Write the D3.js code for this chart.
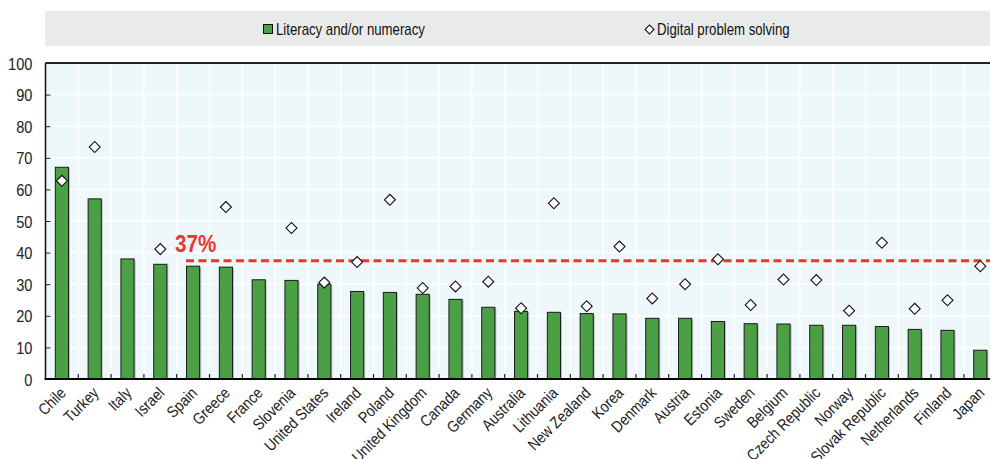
<!DOCTYPE html>
<html><head><meta charset="utf-8">
<script src="https://cdn.jsdelivr.net/npm/d3@7"></script>
<style>
html,body{margin:0;padding:0;background:#fff;}
svg{display:block;font-family:"Liberation Sans",Arial,sans-serif;}
</style></head>
<body><svg id="c" width="990" height="459"></svg>
<script>
const countries = ["Chile","Turkey","Italy","Israel","Spain","Greece","France","Slovenia","United States","Ireland","Poland","United Kingdom","Canada","Germany","Australia","Lithuania","New Zealand","Korea","Denmark","Austria","Estonia","Sweden","Belgium","Czech Republic","Norway","Slovak Republic","Netherlands","Finland","Japan"];
const literacy = [67.0,57.0,38.0,36.3,35.7,35.4,31.4,31.2,30.0,27.7,27.4,26.8,25.2,22.7,21.4,21.1,20.7,20.6,19.2,19.2,18.2,17.5,17.4,17.0,17.0,16.6,15.7,15.4,9.1];
const digital = [62.7,73.4,null,41.1,null,54.4,null,47.8,30.5,37.0,56.7,28.8,29.3,30.8,22.4,55.6,23.0,41.9,25.5,30.0,37.9,23.4,31.5,31.3,21.6,43.1,22.2,24.9,35.7];
const yTicks = [0,10,20,30,40,50,60,70,80,90,100];
const seriesNames = ["Literacy and/or numeracy","Digital problem solving"];
const averageValue = 37.4;
const averageLabel = "37%";

const SX = 0.86; // horizontal condensing to mimic a narrow font
const SXL = 0.825;
const svg = d3.select("#c");
const L = 45.5, R = 996.7, T = 63, B = 379;
const x = d3.scaleBand().domain(countries).range([L, R]).paddingInner(0.6).paddingOuter(0.3);
const y = d3.scaleLinear().domain([0,100]).range([B, T]);
const step = x.step();

// legend band
svg.append("rect").attr("x",45).attr("y",11).attr("width",950).attr("height",35).attr("fill","#e9ebeb");
const lg = svg.append("g");
lg.append("rect").attr("x",263.5).attr("y",24.5).attr("width",9).attr("height",9).attr("fill","#4ba046").attr("stroke","#111").attr("stroke-width",1);
lg.append("text").attr("transform",`translate(276,34.5) scale(${SXL},1)`).attr("font-size",16).attr("fill","#111").text(seriesNames[0]);
lg.append("path").attr("d",d3.symbol(d3.symbolSquare, 40)()).attr("transform","translate(649.5,29.5) rotate(45)").attr("fill","#fff").attr("stroke","#111").attr("stroke-width",1.1);
lg.append("text").attr("transform",`translate(657,34.5) scale(${SXL},1)`).attr("font-size",16).attr("fill","#111").text(seriesNames[1]);

// plot background
svg.append("rect").attr("x",L).attr("y",T).attr("width",R-L).attr("height",B-T).attr("fill","#eef7f9");
// horizontal grid
svg.append("g").selectAll("line").data(yTicks.slice(1)).join("line")
  .attr("x1",L).attr("x2",R).attr("y1",d=>y(d)).attr("y2",d=>y(d)).attr("stroke","#fff").attr("stroke-width",1.5);
// vertical grid at category boundaries
svg.append("g").selectAll("line").data(countries.slice(1)).join("line")
  .attr("x1",d=>x(d)-step*0.3).attr("x2",d=>x(d)-step*0.3).attr("y1",T).attr("y2",B).attr("stroke","#fff").attr("stroke-width",1.5);

// bars
svg.append("g").selectAll("rect.sh").data(countries).join("rect")
  .attr("x",d=>x(d)+1.5).attr("y",(d,i)=>y(literacy[i])+1).attr("width",x.bandwidth()).attr("height",(d,i)=>B-y(literacy[i])-1)
  .attr("fill","#999").attr("opacity",0.6);
svg.append("g").selectAll("rect.b").data(countries).join("rect")
  .attr("x",d=>x(d)).attr("y",(d,i)=>y(literacy[i])).attr("width",x.bandwidth()).attr("height",(d,i)=>B-y(literacy[i]))
  .attr("fill","#4ba046").attr("stroke","#1a1a1a").attr("stroke-width",1);

// bottom tick marks (inside)
svg.append("g").selectAll("line").data(countries.slice(1)).join("line")
  .attr("x1",d=>x(d)-step*0.3).attr("x2",d=>x(d)-step*0.3).attr("y1",B-5).attr("y2",B).attr("stroke","#222").attr("stroke-width",1.2);

// average line
svg.append("line").attr("x1",186).attr("x2",R).attr("y1",y(averageValue)).attr("y2",y(averageValue))
  .attr("stroke","#ee3333").attr("stroke-width",3).attr("stroke-dasharray","8,4.5");
svg.append("text").attr("transform","translate(175,252) scale(0.86,1)").attr("font-size",24).attr("font-weight","bold").attr("fill","#ee3333")
  .text(averageLabel);

// diamonds
const dia = d3.symbol(d3.symbolSquare, 60)();
svg.append("g").selectAll("path").data(countries.map((c,i)=>({c,v:digital[i]})).filter(d=>d.v!=null)).join("path")
  .attr("d",dia).attr("transform",d=>`translate(${x(d.c)+x.bandwidth()/2},${y(d.v)}) rotate(45)`)
  .attr("fill","#fff").attr("stroke","#111").attr("stroke-width",1.1);

// axes
const yAxis = svg.append("g").attr("transform",`translate(${L},0)`)
  .call(d3.axisLeft(y).tickValues(yTicks).tickSize(-5).tickPadding(13).tickFormat(d3.format("d")));
yAxis.select(".domain").remove();
yAxis.selectAll("text").attr("font-size",17).attr("fill","#222").attr("x",0).attr("dy","0.36em")
  .attr("transform",`translate(-13,0) scale(${SX},1)`);
yAxis.selectAll("line").attr("stroke","#222");
svg.append("line").attr("x1",L).attr("x2",L).attr("y1",T).attr("y2",B).attr("stroke","#111").attr("stroke-width",1.5);
svg.append("line").attr("x1",L).attr("x2",R).attr("y1",T).attr("y2",T).attr("stroke","#222").attr("stroke-width",2);
svg.append("line").attr("x1",L-1).attr("x2",R).attr("y1",B).attr("y2",B).attr("stroke","#000").attr("stroke-width",2.2);

const xAxis = svg.append("g").attr("transform",`translate(0,${B})`).call(d3.axisBottom(x).tickSize(0).tickPadding(0));
xAxis.select(".domain").remove();
xAxis.selectAll("text").attr("font-size",16).attr("fill","#222")
  .attr("text-anchor","end").attr("dy",0).attr("y",0)
  .attr("transform",`translate(5,15) rotate(-45) scale(${SX},1)`);
</script></body></html>
